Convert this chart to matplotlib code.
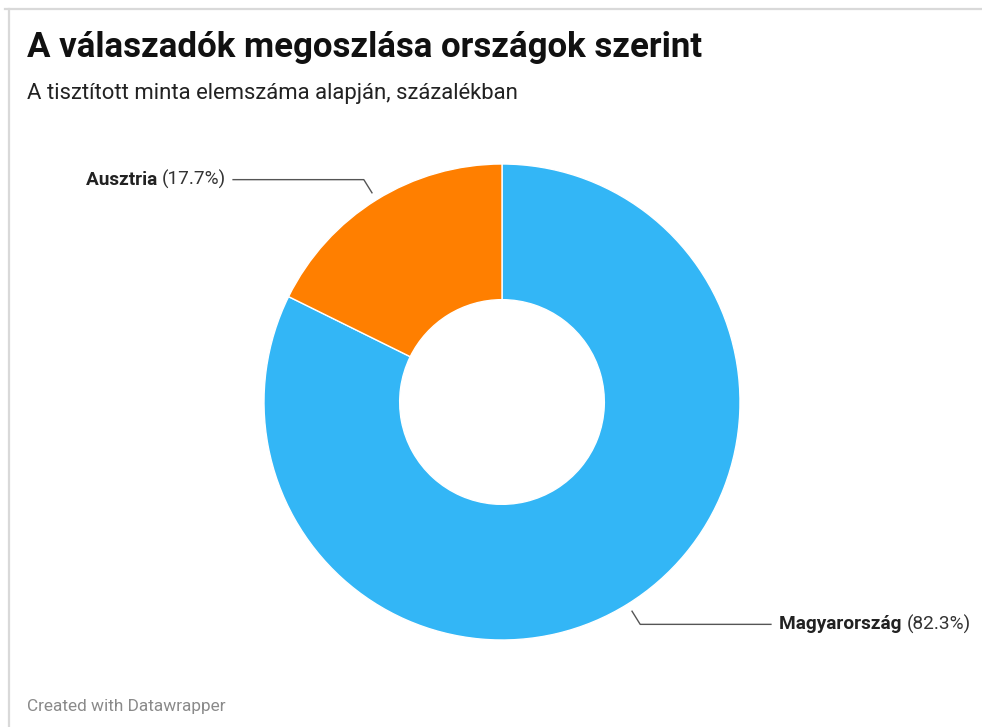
import numpy as np
import matplotlib.pyplot as plt
from matplotlib.lines import Line2D

plt.rcParams['font.family'] = ['Roboto', 'DejaVu Sans']

# data
countries = ["Magyarország", "Ausztria"]
shares = [82.3, 17.7]
colors = ["#33b6f6", "#ff7f00"]

title = "A válaszadók megoszlása országok szerint"
subtitle = "A tisztított minta elemszáma alapján, százalékban"
footer = "Created with Datawrapper"

W, H = 982, 727
fig = plt.figure(figsize=(W / 100, H / 100), dpi=100)
fig.patch.set_facecolor("white")

# frame lines (top and left)
fig.add_artist(Line2D([5 / W, 1], [1 - 9 / H, 1 - 9 / H], color="#d9d9d9", lw=1.6))
fig.add_artist(Line2D([9 / W, 9 / W], [0, 1 - 9 / H], color="#d9d9d9", lw=1.6))

fig.text(27 / W, 1 - 47 / H, title, fontsize=25.1, fontweight="bold",
         color="#111111", va="center", ha="left")
fig.text(27 / W, 1 - 94 / H, subtitle, fontsize=15.9, color="#222222",
         va="center", ha="left")
fig.text(27 / W, 1 - 706 / H, footer, fontsize=12.4, color="#8a8a8a",
         va="center", ha="left")

# pie axes: centre (502, 402) px, outer radius 238 px
cx, cy, R = 502, 402, 238
ax = fig.add_axes([(cx - R) / W, (H - cy - R) / H, 2 * R / W, 2 * R / H])
wedges, _ = ax.pie(shares, colors=colors, startangle=90, counterclock=False,
                   radius=1.0, wedgeprops=dict(width=0.57, edgecolor="white", linewidth=1))
ax.set_xlim(-1, 1)
ax.set_ylim(-1, 1)
ax.set_aspect("equal")
ax.axis("off")

# leader lines + labels
fs = 13.7
for w, name, val in zip(wedges, countries, shares):
    ang = np.deg2rad((w.theta1 + w.theta2) / 2)
    ca, sa = np.cos(ang), np.sin(ang)
    p0 = (1.035 * ca, 1.035 * sa)
    p1 = (1.10 * ca, 1.10 * sa)
    side = np.sign(ca)
    p2 = (side * 1.13, p1[1])
    ax.plot([p0[0], p1[0], p2[0]], [p0[1], p1[1], p2[1]], color="#555555",
            lw=1.0, clip_on=False)
    pct = f"({val}%)"
    if side < 0:
        t = ax.text(p2[0] - 0.03, p2[1], pct, ha="right", va="center",
                    fontsize=fs, color="#333333")
        ax.annotate(name + " ", xy=(0, 0.5), xycoords=t, ha="right", va="center",
                    fontsize=fs, fontweight="bold", color="#222222")
    else:
        t = ax.text(p2[0] + 0.035, p2[1], name + " ", ha="left", va="center",
                    fontsize=fs, fontweight="bold", color="#222222")
        ax.annotate(pct, xy=(1, 0.5), xycoords=t, ha="left", va="center",
                    fontsize=fs, color="#333333")

fig.savefig("out.png", dpi=100)
